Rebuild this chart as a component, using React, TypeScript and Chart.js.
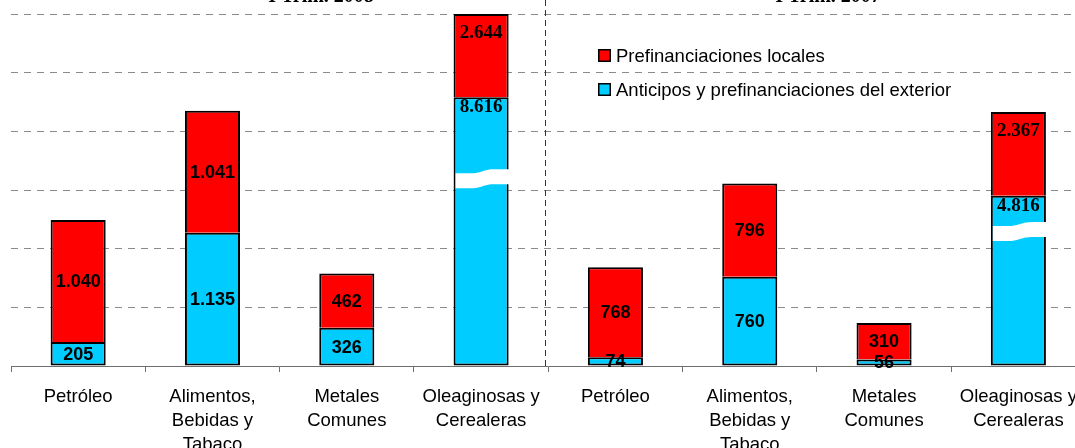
import React, { useEffect, useRef } from 'react';
import { Chart, registerables } from 'chart.js';

Chart.register(...registerables);

// ---- Datos ----
const categorias: (string | string[])[] = [
  'Petróleo',
  ['Alimentos,', 'Bebidas y', 'Tabaco'],
  ['Metales', 'Comunes'],
  ['Oleaginosas y', 'Cerealeras'],
  'Petróleo',
  ['Alimentos,', 'Bebidas y', 'Tabaco'],
  ['Metales', 'Comunes'],
  ['Oleaginosas y', 'Cerealeras'],
];
const periodos = ['I Trim. 2008', 'I Trim. 2007'];
const serieExterior = 'Anticipos y prefinanciaciones del exterior';
const serieLocales = 'Prefinanciaciones locales';
// valores reales (etiquetas)
const anticiposExterior = [205, 1135, 326, 8616, 74, 760, 56, 4816];
const prefLocales = [1040, 1041, 462, 2644, 768, 796, 310, 2367];
// alturas dibujadas (las barras de Oleaginosas están cortadas)
const alturaExterior = [205, 1135, 326, 2290, 74, 760, 56, 1450];
const alturaLocales = [1040, 1041, 462, 710, 768, 796, 310, 715];
// posición del corte (en unidades del eje) para barras truncadas
const cortes: (number | null)[] = [null, null, null, 1600, null, null, null, 1150];
const yMax = 3000;
const yPaso = 500;

const ROJO = '#FF0000';
const CELESTE = '#00CCFF';
const SANS = "'Liberation Sans', Arial, sans-serif";
const SERIF = "'Liberation Serif', 'Times New Roman', serif";

const fmt = (v: number) => String(v).replace(/\B(?=(\d{3})+(?!\d))/g, '.');

const decoraciones = {
  id: 'decoraciones',
  beforeDatasetsDraw(chart: any) {
    const ctx = chart.ctx;
    const xs = chart.scales.x;
    const area = chart.chartArea;
    // separador vertical entre períodos
    const xSep = (xs.getPixelForValue(3) + xs.getPixelForValue(4)) / 2 - 3;
    ctx.save();
    ctx.strokeStyle = '#333';
    ctx.lineWidth = 1;
    ctx.setLineDash([6, 4]);
    ctx.beginPath();
    ctx.moveTo(Math.round(xSep) + 0.5, 0);
    ctx.lineTo(Math.round(xSep) + 0.5, area.bottom + 3);
    ctx.stroke();
    ctx.restore();
  },
  afterDatasetsDraw(chart: any) {
    const ctx = chart.ctx;
    const ys = chart.scales.y;
    const meta0 = chart.getDatasetMeta(0);
    const meta1 = chart.getDatasetMeta(1);
    // cortes (bandas blancas onduladas)
    cortes.forEach((c, i) => {
      if (c == null) return;
      const el = meta0.data[i];
      const { x, width } = el.getProps(['x', 'width'], true);
      const left = x - width / 2 + 2;
      const right = x + width / 2 + 1;
      const yc = ys.getPixelForValue(c);
      const N = 24;
      const onda = (t: number) => {
        const s = Math.min(1, Math.max(0, (t - 0.3) / 0.4));
        return 2 * Math.cos(Math.PI * s);
      };
      ctx.save();
      ctx.fillStyle = '#fff';
      ctx.beginPath();
      for (let k = 0; k <= N; k++) {
        const t = k / N;
        const xx = left + (right - left) * t;
        const yy = yc - 7 + onda(t);
        if (k === 0) ctx.moveTo(xx, yy);
        else ctx.lineTo(xx, yy);
      }
      for (let k = N; k >= 0; k--) {
        const t = k / N;
        const xx = left + (right - left) * t;
        const yy = yc + 8 + onda(t);
        ctx.lineTo(xx, yy);
      }
      ctx.closePath();
      ctx.fill();
      ctx.restore();
    });
    // etiquetas de valores
    const valores = [anticiposExterior, prefLocales];
    [meta0, meta1].forEach((meta: any, di: number) => {
      meta.data.forEach((el: any, i: number) => {
        const { x, y, base } = el.getProps(['x', 'y', 'base'], true);
        const roto = cortes[i] != null;
        let ty: number;
        ctx.save();
        ctx.fillStyle = '#000';
        ctx.textAlign = 'center';
        ctx.textBaseline = 'middle';
        if (roto) {
          ctx.font = `bold 19px ${SERIF}`;
          ty = y + (di === 1 ? 18 : 9);
        } else {
          ctx.font = `bold 18px ${SANS}`;
          ty = (y + base) / 2;
        }
        ctx.fillText(fmt(valores[di][i]), x, ty + 1);
        ctx.restore();
      });
    });
  },
  afterDraw(chart: any) {
    const ctx = chart.ctx;
    // títulos de período (cortados en la parte superior)
    ctx.save();
    ctx.fillStyle = '#000';
    ctx.font = `bold 20px ${SERIF}`;
    ctx.textAlign = 'center';
    ctx.textBaseline = 'alphabetic';
    ctx.fillText(periodos[0], 321, 2);
    ctx.fillText(periodos[1], 828, 2);
    ctx.restore();
    // leyenda
    const items = [
      { label: serieLocales, color: ROJO },
      { label: serieExterior, color: CELESTE },
    ];
    ctx.save();
    items.forEach((it, k) => {
      const cy = 56 + k * 34;
      ctx.fillStyle = it.color;
      ctx.fillRect(599, cy - 6, 11, 11);
      ctx.strokeStyle = '#000';
      ctx.lineWidth = 1.5;
      ctx.strokeRect(598.75, cy - 6.25, 11.5, 11.5);
      ctx.fillStyle = '#000';
      ctx.font = `18.5px ${SANS}`;
      ctx.textAlign = 'left';
      ctx.textBaseline = 'middle';
      ctx.fillText(it.label, 616, cy + 1);
    });
    ctx.restore();
  },
};

export default function App() {
  const ref = useRef<HTMLCanvasElement | null>(null);
  useEffect(() => {
    if (!ref.current) return;
    const chart = new Chart(ref.current, {
      type: 'bar',
      data: {
        labels: categorias,
        datasets: [
          {
            label: serieExterior,
            data: alturaExterior,
            backgroundColor: CELESTE,
            borderColor: '#000',
            borderWidth: 2,
            borderSkipped: false,
            stack: 's',
            categoryPercentage: 1,
            barPercentage: 0.41,
          },
          {
            label: serieLocales,
            data: alturaLocales,
            backgroundColor: ROJO,
            borderColor: '#000',
            borderWidth: 2,
            borderSkipped: 'start',
            stack: 's',
            categoryPercentage: 1,
            barPercentage: 0.41,
          },
        ],
      },
      options: {
        animation: false,
        responsive: false,
        devicePixelRatio: 1,
        layout: { padding: { left: 11, top: 14, right: 0, bottom: 0 } },
        plugins: {
          legend: { display: false },
          tooltip: { enabled: false },
          title: { display: false },
        },
        scales: {
          x: {
            stacked: true,
            border: { display: true, color: '#6e6e6e', width: 1 },
            grid: {
              offset: true,
              drawOnChartArea: false,
              drawTicks: true,
              tickLength: 6,
              color: '#6e6e6e',
            },
            ticks: {
              color: '#000',
              font: { family: SANS, size: 18.5, lineHeight: 1.3 },
              padding: 13,
              maxRotation: 0,
              autoSkip: false,
            },
            afterFit(scale: any) {
              scale.height = 82;
            },
          },
          y: {
            stacked: true,
            min: 0,
            max: yMax,
            border: { display: false, dash: [7, 6] },
            grid: {
              drawTicks: false,
              color: (c: any) => (c.tick && c.tick.value === 0 ? 'rgba(0,0,0,0)' : '#8a8a8a'),
              lineWidth: 1,
            },
            ticks: { display: false, stepSize: yPaso },
            afterFit(scale: any) {
              scale.width = 0;
            },
          },
        },
      },
      plugins: [decoraciones],
    });
    return () => chart.destroy();
  }, []);
  return (
    <div
      style={{
        position: 'absolute',
        left: 0,
        top: 0,
        width: 1075,
        height: 448,
        overflow: 'hidden',
        background: '#fff',
      }}
    >
      <canvas ref={ref} width={1090} height={448} style={{ width: 1090, height: 448, display: 'block' }} />
    </div>
  );
}
